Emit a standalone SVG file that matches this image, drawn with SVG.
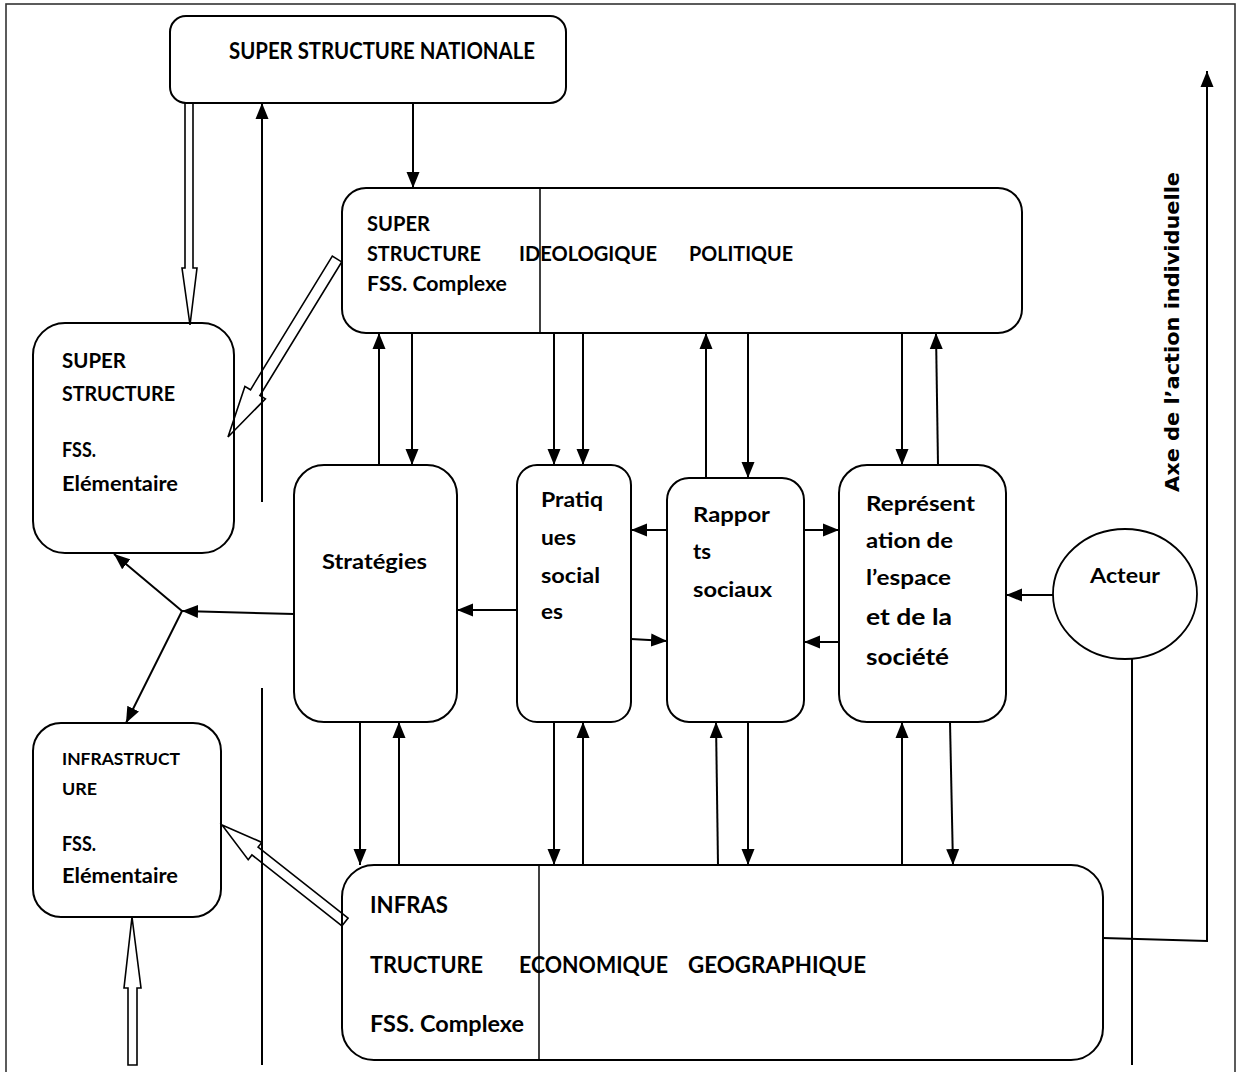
<svg xmlns="http://www.w3.org/2000/svg" width="1238" height="1072" viewBox="0 0 1238 1072">
<style>
.box{fill:#fff;stroke:#000;stroke-width:2}
.div{stroke:#000;stroke-width:1.5;fill:none}
.ln{stroke:#000;stroke-width:2;fill:none}
.arr{marker-end:url(#ah)}
.hollow{fill:none;stroke:#000;stroke-width:1.6;stroke-linejoin:miter}
.t{font-family:Lato,"Open Sans","Liberation Sans",sans-serif;font-weight:700;font-size:21px;fill:#000}
.s{font-size:17.5px}
.b{font-size:23px}
.axe{font-family:"DejaVu Sans","Liberation Sans",sans-serif;font-weight:700;font-size:19.5px;fill:#000}
</style>
<defs>
<marker id="ah" markerUnits="userSpaceOnUse" markerWidth="18" markerHeight="14" refX="16" refY="7" orient="auto" viewBox="0 0 18 14">
<path d="M0,0.5 L16,7 L0,13.5 z" fill="#000"/>
</marker>
</defs>
<rect width="1238" height="1072" fill="#fff"/>
<rect x="6" y="4" width="1229" height="1090" fill="none" stroke="#333" stroke-width="1.6"/>

<g id="nodes">
<g id="national">
<rect class="box" x="170" y="16" width="396" height="87" rx="16"/>
<text class="t b" x="229" y="59" textLength="306" lengthAdjust="spacingAndGlyphs">SUPER STRUCTURE NATIONALE</text>
</g>
<g id="superstructure-ideologique">
<rect class="box" x="342" y="188" width="680" height="145" rx="24"/>
<line class="div" x1="540" y1="188" x2="540" y2="333"/>
<text class="t" x="367" y="231" textLength="63" lengthAdjust="spacingAndGlyphs">SUPER</text>
<text class="t" x="367" y="261" textLength="114" lengthAdjust="spacingAndGlyphs">STRUCTURE</text>
<text class="t" x="519" y="261" textLength="138" lengthAdjust="spacingAndGlyphs">IDEOLOGIQUE</text>
<text class="t" x="689" y="261" textLength="104" lengthAdjust="spacingAndGlyphs">POLITIQUE</text>
<text class="t" x="367" y="291" textLength="140" lengthAdjust="spacingAndGlyphs">FSS. Complexe</text>
</g>
<g id="superstructure-elementaire">
<rect class="box" x="33" y="323" width="201" height="230" rx="32"/>
<text class="t" x="62" y="368" textLength="64" lengthAdjust="spacingAndGlyphs">SUPER</text>
<text class="t" x="62" y="401" textLength="113" lengthAdjust="spacingAndGlyphs">STRUCTURE</text>
<text class="t" x="62" y="457" textLength="34" lengthAdjust="spacingAndGlyphs">FSS.</text>
<text class="t" x="62" y="491" textLength="116" lengthAdjust="spacingAndGlyphs">Elémentaire</text>
</g>
<g id="strategies">
<rect class="box" x="294" y="465" width="163" height="257" rx="30"/>
<text class="t" x="322" y="569" textLength="105" lengthAdjust="spacingAndGlyphs">Stratégies</text>
</g>
<g id="pratiques">
<rect class="box" x="517" y="465" width="114" height="257" rx="20"/>
<text class="t" x="541" y="507" textLength="62" lengthAdjust="spacingAndGlyphs">Pratiq</text>
<text class="t" x="541" y="545" textLength="35" lengthAdjust="spacingAndGlyphs">ues</text>
<text class="t" x="541" y="583" textLength="59" lengthAdjust="spacingAndGlyphs">social</text>
<text class="t" x="541" y="619" textLength="22" lengthAdjust="spacingAndGlyphs">es</text>
</g>
<g id="rapports">
<rect class="box" x="667" y="478" width="137" height="244" rx="22"/>
<text class="t" x="693" y="522" textLength="77" lengthAdjust="spacingAndGlyphs">Rappor</text>
<text class="t" x="693" y="559" textLength="18" lengthAdjust="spacingAndGlyphs">ts</text>
<text class="t" x="693" y="597" textLength="79" lengthAdjust="spacingAndGlyphs">sociaux</text>
</g>
<g id="representation">
<rect class="box" x="839" y="465" width="167" height="257" rx="28"/>
<text class="t" x="866" y="511" textLength="109" lengthAdjust="spacingAndGlyphs">Représent</text>
<text class="t" x="866" y="548" textLength="87" lengthAdjust="spacingAndGlyphs">ation de</text>
<text class="t" x="866" y="585" textLength="85" lengthAdjust="spacingAndGlyphs">l’espace</text>
<text class="t b" x="866" y="625" textLength="86" lengthAdjust="spacingAndGlyphs">et de la</text>
<text class="t b" x="866" y="665" textLength="83" lengthAdjust="spacingAndGlyphs">société</text>
</g>
<g id="acteur">
<ellipse cx="1125" cy="594" rx="72" ry="65" fill="#fff" stroke="#000" stroke-width="1.8"/>
<text class="t" x="1090" y="583" textLength="70" lengthAdjust="spacingAndGlyphs">Acteur</text>
</g>
<g id="infrastructure-elementaire">
<rect class="box" x="33" y="723" width="188" height="194" rx="28"/>
<text class="t s" x="62" y="765" textLength="118" lengthAdjust="spacingAndGlyphs">INFRASTRUCT</text>
<text class="t s" x="62" y="795" textLength="35" lengthAdjust="spacingAndGlyphs">URE</text>
<text class="t" x="62" y="851" textLength="34" lengthAdjust="spacingAndGlyphs">FSS.</text>
<text class="t" x="62" y="883" textLength="116" lengthAdjust="spacingAndGlyphs">Elémentaire</text>
</g>
<g id="infrastructure-economique">
<rect class="box" x="342" y="865" width="761" height="195" rx="32"/>
<line class="div" x1="539" y1="865" x2="539" y2="1060"/>
<text class="t b" x="370" y="913" textLength="78" lengthAdjust="spacingAndGlyphs">INFRAS</text>
<text class="t b" x="370" y="973" textLength="113" lengthAdjust="spacingAndGlyphs">TRUCTURE</text>
<text class="t b" x="519" y="973" textLength="149" lengthAdjust="spacingAndGlyphs">ECONOMIQUE</text>
<text class="t b" x="688" y="973" textLength="178" lengthAdjust="spacingAndGlyphs">GEOGRAPHIQUE</text>
<text class="t b" x="370" y="1032" textLength="154" lengthAdjust="spacingAndGlyphs">FSS. Complexe</text>
</g>
<g id="axe-label">
<text class="axe" transform="translate(1179,492) rotate(-90)" x="0" y="0" textLength="320" lengthAdjust="spacingAndGlyphs">Axe de l’action individuelle</text>
</g>
</g>

<g id="connectors">
<line class="ln arr" x1="413" y1="103" x2="413" y2="188"/>
<line class="ln arr" x1="262" y1="502" x2="262" y2="103"/>
<line class="ln" x1="262" y1="688" x2="262" y2="1065"/>
<line class="ln arr" x1="379" y1="465" x2="379" y2="333"/>
<line class="ln arr" x1="412" y1="333" x2="412" y2="465"/>
<line class="ln arr" x1="554" y1="333" x2="554" y2="465"/>
<line class="ln arr" x1="583" y1="333" x2="583" y2="465"/>
<line class="ln arr" x1="706" y1="478" x2="706" y2="333"/>
<line class="ln arr" x1="748" y1="333" x2="748" y2="478"/>
<line class="ln arr" x1="902" y1="333" x2="902" y2="465"/>
<line class="ln arr" x1="938" y1="465" x2="936" y2="333"/>
<line class="ln arr" x1="667" y1="530" x2="631" y2="530"/>
<line class="ln arr" x1="631" y1="639" x2="667" y2="641"/>
<line class="ln arr" x1="804" y1="530" x2="839" y2="530"/>
<line class="ln arr" x1="839" y1="642" x2="804" y2="642"/>
<line class="ln arr" x1="517" y1="610" x2="457" y2="610"/>
<line class="ln arr" x1="1053" y1="595" x2="1006" y2="595"/>
<line class="ln arr" x1="294" y1="614" x2="182" y2="611"/>
<line class="ln arr" x1="182" y1="611" x2="114" y2="554"/>
<line class="ln arr" x1="182" y1="611" x2="126" y2="723"/>
<line class="ln arr" x1="360" y1="722" x2="360" y2="865"/>
<line class="ln arr" x1="399" y1="865" x2="399" y2="722"/>
<line class="ln arr" x1="554" y1="722" x2="554" y2="865"/>
<line class="ln arr" x1="583" y1="865" x2="583" y2="722"/>
<line class="ln arr" x1="718" y1="865" x2="716" y2="722"/>
<line class="ln arr" x1="748" y1="722" x2="748" y2="865"/>
<line class="ln arr" x1="902" y1="865" x2="902" y2="722"/>
<line class="ln arr" x1="950" y1="722" x2="953" y2="865"/>
<polyline class="ln arr" points="1103,938 1207,941 1207,71"/>
<line class="ln" x1="1132" y1="659" x2="1132" y2="1065"/>
<polygon class="hollow" points="185,103 185,268 182,268 190,325 197,268 193,268 193,103"/>
<polygon class="hollow" points="332.3,256.1 250.5,389.8 244.9,386.4 228,437 265.4,398.9 259.9,395.5 341.7,261.9"/>
<polygon class="hollow" points="348.1,918.1 258.1,847.1 261.8,842.4 222,825 248.2,859.7 251.9,854.9 341.9,925.9"/>
<polygon class="hollow" points="128,1065 128,988 124,988 132,917 141,988 137,988 137,1065"/>
</g>
</svg>
